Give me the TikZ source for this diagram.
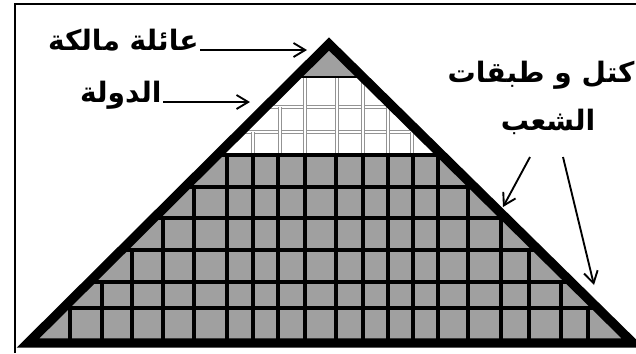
\documentclass[tikz,border=0pt]{standalone}
\usepackage{fontspec}
\newfontfamily\arabicfont[Script=Arabic]{DejaVu Sans}
\TeXXeTstate=1
\usetikzlibrary{arrows.meta}
\definecolor{stone}{RGB}{160,160,160}

\begin{document}
\begin{tikzpicture}[
    x=0.03cm, y=-0.03cm,
    lbl/.style = {font=\arabicfont\bfseries\fontsize{24}{28}\selectfont, inner sep=1pt},
    ptr/.style = {line width=1.6pt, -{Straight Barb[length=3.5mm,width=4.2mm,line width=1.6pt]}},
    brick/.style = {line width=2.8pt},
    glass/.style = {draw=gray!85, line width=0.8pt, double=white, double distance=1.4pt},
    rim/.style = {line width=8pt, line join=miter},
  ]
  \useasboundingbox (0,0) rectangle (636,353);
  \draw[line width=1.2pt] (15,353) -- (15,4) -- (636,4);

  \coordinate (apex) at (329,44);
  \coordinate (bl) at (28,343);
  \coordinate (br) at (633,343);

  \begin{scope}
    \clip (bl) -- (apex) -- (br) -- cycle;
    \fill[stone] (0,0) rectangle (636,77);
    \fill[stone] (0,155) rectangle (636,343);
    \foreach \y in {107,132}
      \draw[glass] (200,\y) -- (460,\y);
    \foreach \x/\t in {253/132,280/107,305/77,337/77,363/77,388/107,412/132}
      \draw[glass] (\x,\t) -- (\x,155);
    \draw[line width=1.6pt] (0,77) -- (636,77);
    \foreach \y in {155,187,218,250,282,308}
      \draw[brick] (0,\y) -- (636,\y);
    \foreach \x/\t in {70/308,102/282,132/250,163/218,194/187,227/155,253/155,278/155,
                       305/155,336/155,363/155,388/155,413/155,438/155,468/187,501/218,
                       529/250,561/282,588/308}
      \draw[brick] (\x,\t) -- (\x,343);
  \end{scope}
  \draw[rim] (bl) -- (apex) -- (br) -- cycle;

  \node[lbl, anchor=base east] (royal) at (200,50) {\beginR عائلة مالكة\endR};
  \node[lbl, anchor=base east] (state) at (163,102) {\beginR الدولة\endR};
  \node[lbl, anchor=base east] (mass) at (636,82) {\beginR كتل و طبقات\endR};
  \node[lbl, anchor=base] (people) at (548,130) {\beginR الشعب\endR};

  \coordinate (royaltip) at (307,50);
  \coordinate (statetip) at (250,102);
  \coordinate (leftip) at (503,207);
  \coordinate (rightip) at (594,285);

  \draw[ptr] (royal.base east) -- (royaltip);
  \draw[ptr] (state.base east) -- (statetip);
  \draw[ptr] ([shift={(-18,27)}]people.base) -- (leftip);
  \draw[ptr] ([shift={(15,27)}]people.base) -- (rightip);
\end{tikzpicture}
\end{document}
